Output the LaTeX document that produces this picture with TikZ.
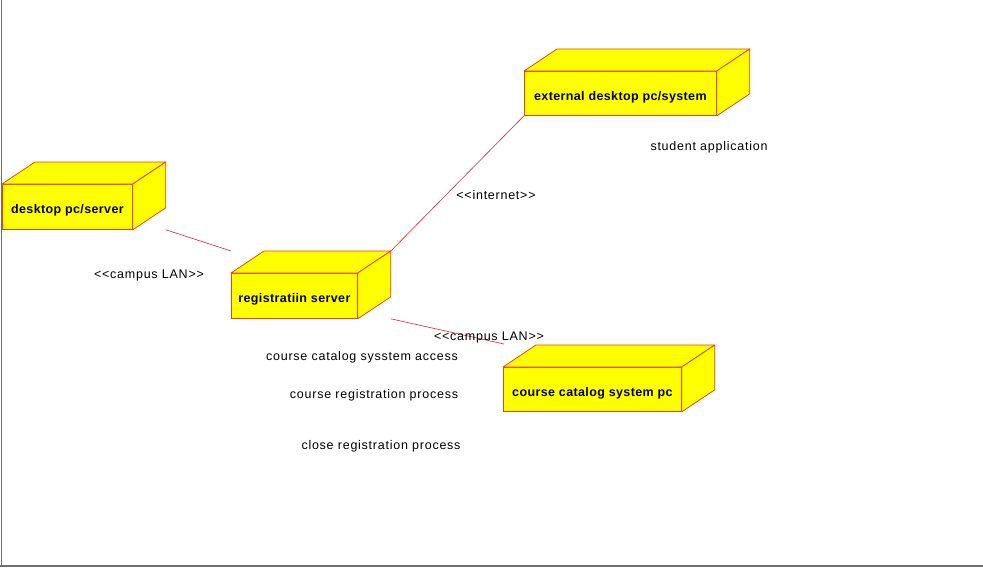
\documentclass[tikz,border=0pt]{standalone}
\usepackage{fontspec}
\setmainfont{Liberation Sans}[Ligatures=TeXOff]
\newfontfamily\notefont{Liberation Sans}[Ligatures=TeXOff, LetterSpace=6]
\newfontfamily\devfont{Liberation Sans Bold}[Ligatures=TeXOff, LetterSpace=3]
\usetikzlibrary{calc}
\definecolor{boxfill}{RGB}{255,255,0}
\definecolor{boxline}{RGB}{235,65,25}
\definecolor{linkred}{RGB}{225,35,35}
\definecolor{framegray}{RGB}{110,110,110}
\tikzset{
	device/.style={draw=boxline, fill=boxfill, line width=0.8pt, font=\devfont\fontsize{12.5}{14}\selectfont,
		minimum height=45, inner sep=0, text height=13.5pt, text depth=0pt, anchor=north west},
	face/.style={draw=boxline, fill=boxfill, line width=0.8pt, line join=round},
	link/.style={draw=linkred, line width=0.6pt},
	note/.style={font=\notefont\fontsize{12.5}{14}\selectfont, inner sep=0}
}
\begin{document}
\begin{tikzpicture}[x=1pt,y=-1pt]
	\useasboundingbox (0,0) rectangle (983,568);
	% frame
	\draw[framegray, line width=1pt] (1,0) -- (1,566);
	\draw[framegray, line width=2pt] (0,566) -- (983,566);
	% devices
	\node[device, minimum width=130] (desk) at (2,184) {desktop pc/server};
	\node[device, minimum width=126] (reg) at (231,273) {registratiin server};
	\node[device, minimum width=192, minimum height=44] (ext) at (524,71) {external desktop pc/system};
	\node[device, minimum width=178, minimum height=44] (cat) at (503,367) {course catalog system pc};
	\foreach \n in {desk,reg,ext,cat} {
		\draw[face] (\n.north west) -- ($(\n.north west)+(33,-22)$) -- ($(\n.north east)+(33,-22)$)
			-- (\n.north east) -- cycle;
		\draw[face] (\n.north east) -- ($(\n.north east)+(33,-22)$) -- ($(\n.south east)+(33,-22)$)
			-- (\n.south east) -- cycle;
		\coordinate (\n-back) at ($(\n.north east)+(33,-22)$);
	}
	% connectors
	\coordinate (desk-end) at ($(desk.south east)+(33,0)$);
	\coordinate (reg-in) at ($(reg.north west)+(0,-22)$);
	\coordinate (reg-out) at ($(reg.south east)+(33,0)$);
	\coordinate (cat-in) at ($(cat.north west)+(1,-23)$);
	\draw[link] (desk-end) -- (reg-in);
	\draw[link] (reg-back) -- (ext.south west);
	\draw[link] (reg-out) -- (cat-in);
	% labels
	\node[note] (lan1) at (149,275) {<<campus LAN>>};
	\node[note] (inet) at (496,195) {<<internet>>};
	\node[note] (lan2) at (489,337) {<<campus LAN>>};
	\node[note] (stud) at (709,147) {student application};
	\node[note] (acc) at (362,357) {course catalog sysstem access};
	\node[note] (crp) at (374,395) {course registration process};
	\node[note] (clrp) at (381,446) {close registration process};
\end{tikzpicture}
\end{document}
